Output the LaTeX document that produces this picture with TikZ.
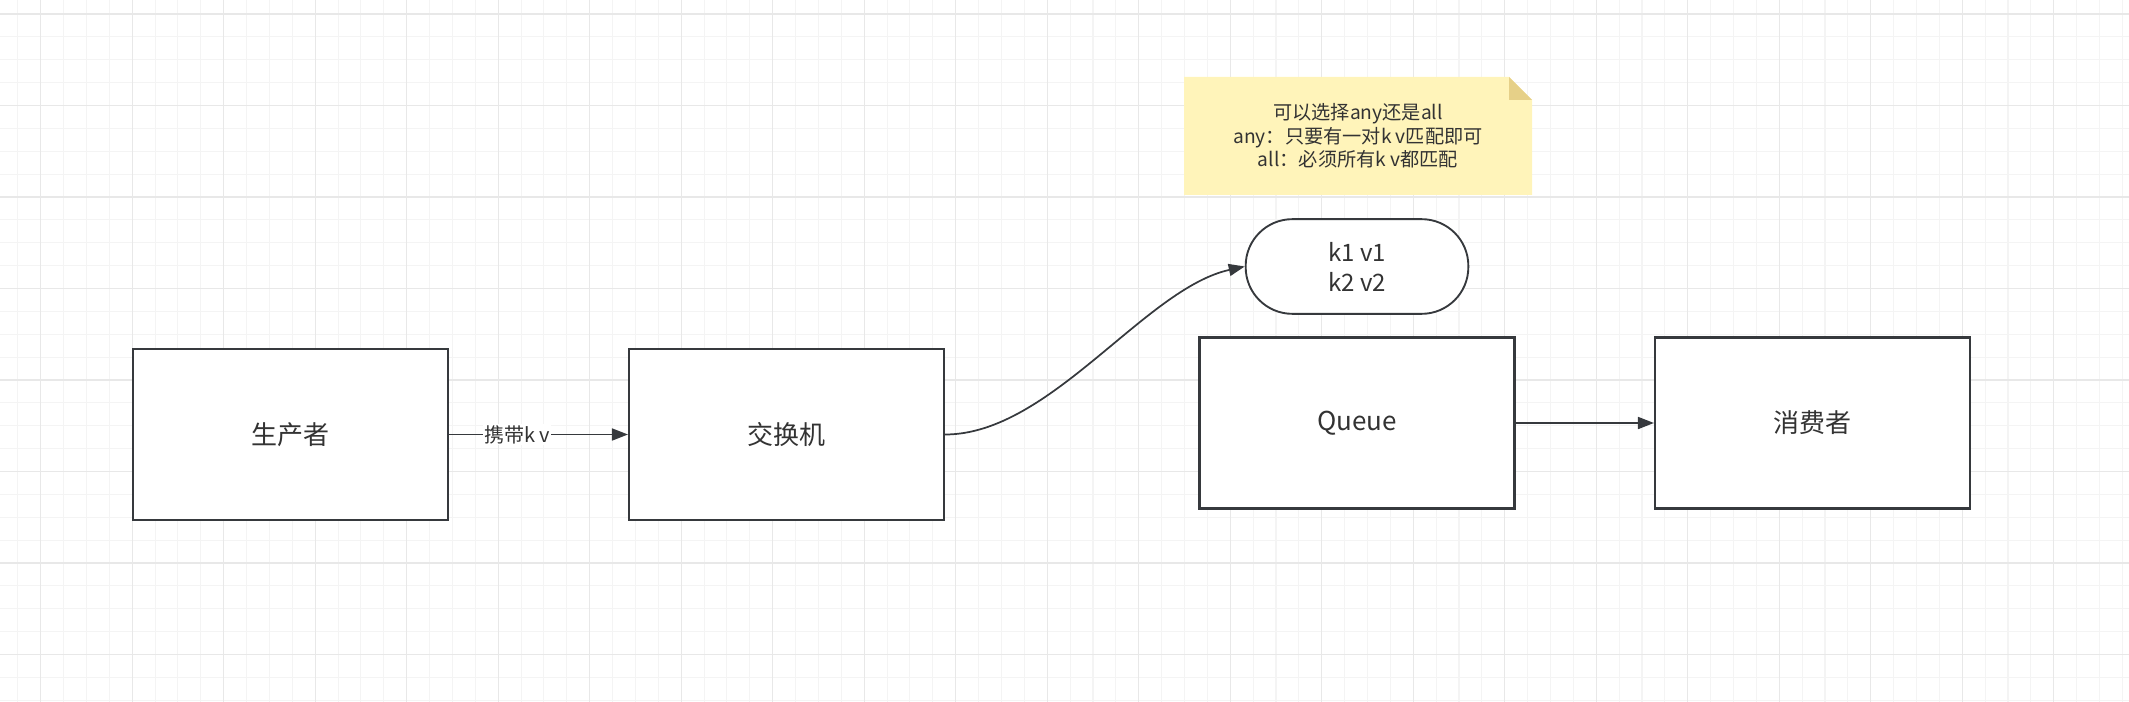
\documentclass[tikz,border=0pt]{standalone}
\usepackage{fontspec}
\setmainfont{Noto Sans CJK SC}
\usepackage{xcolor}
\usepackage{tikz}
\usetikzlibrary{arrows.meta}

\definecolor{inkgray}{HTML}{333333}
\definecolor{edgegray}{HTML}{36393D}
\definecolor{gridminor}{HTML}{F4F4F4}
\definecolor{gridmajor}{HTML}{E8E8E8}
\definecolor{notefill}{RGB}{255,244,186}
\definecolor{notefold}{RGB}{230,208,136}

\begin{document}
\begin{tikzpicture}[
  x=0.75pt,y=-0.75pt,
  box/.style={draw=edgegray,line width=1.8pt,fill=white,minimum width=236pt,minimum height=128pt,text=inkgray,font=\fontsize{19.5}{23}\selectfont},
  pill/.style={draw=edgegray,line width=1.4pt,fill=white,rounded corners=35pt,minimum width=167pt,minimum height=71pt,align=center,text=inkgray,font=\fontsize{18}{22.5}\selectfont},
  note/.style={minimum width=261pt,minimum height=88.5pt,align=center,text=inkgray,font=\fontsize{14.4}{17.5}\selectfont,
    path picture={
      \fill[notefill] (path picture bounding box.south west) |- ([xshift=-17.25pt]path picture bounding box.north east)
        -- ([yshift=-17.25pt]path picture bounding box.north east) -- (path picture bounding box.south east) -- cycle;
      \fill[notefold] ([xshift=-17.25pt]path picture bounding box.north east) |- ([yshift=-17.25pt]path picture bounding box.north east) -- cycle;
    }},
  line/.style={draw=edgegray,line width=1.3pt,-{Triangle[length=12pt,width=9pt]}},
  lbl/.style={fill=white,inner sep=1pt,text=inkgray,font=\fontsize{15}{18}\selectfont}
]
\useasboundingbox (0,0) rectangle (2129,702);

% grid
\foreach \i in {-1,...,91} \draw[gridminor,line width=0.8pt] ({40.7+22.875*\i},0) -- ++(0,702);
\foreach \j in {0,...,30} \draw[gridminor,line width=0.8pt] (0,{14+22.875*\j}) -- ++(2129,0);
\foreach \i in {0,...,23} \draw[gridmajor,line width=1pt] ({40.7+91.5*\i},0) -- ++(0,702);
\foreach \j in {0,...,7} \draw[gridmajor,line width=1pt] (0,{14+91.5*\j}) -- ++(2129,0);

\node[box] (prod) at (290.5,434.5) {生产者};
\node[box] (exch) at (786.5,434.5) {交换机};
\node[box] (queue) at (1357,423) {Queue};
\node[box] (cons) at (1812.5,423) {消费者};
\node[pill] (kv) at (1357,266.5) {k1 v1\\k2 v2};
\node[note] (hint) at (1358,136) {可以选择any还是all\\any：只要有一对k v匹配即可\\all：必须所有k v都匹配};

\draw[line] (prod) -- node[lbl,pos=0.38] {携带k v} (exch);
\draw[line] (exch.east) .. controls +(105,0) and +(-100,22) .. (kv.west);
\draw[line] (queue) -- (cons);
\end{tikzpicture}
\end{document}
